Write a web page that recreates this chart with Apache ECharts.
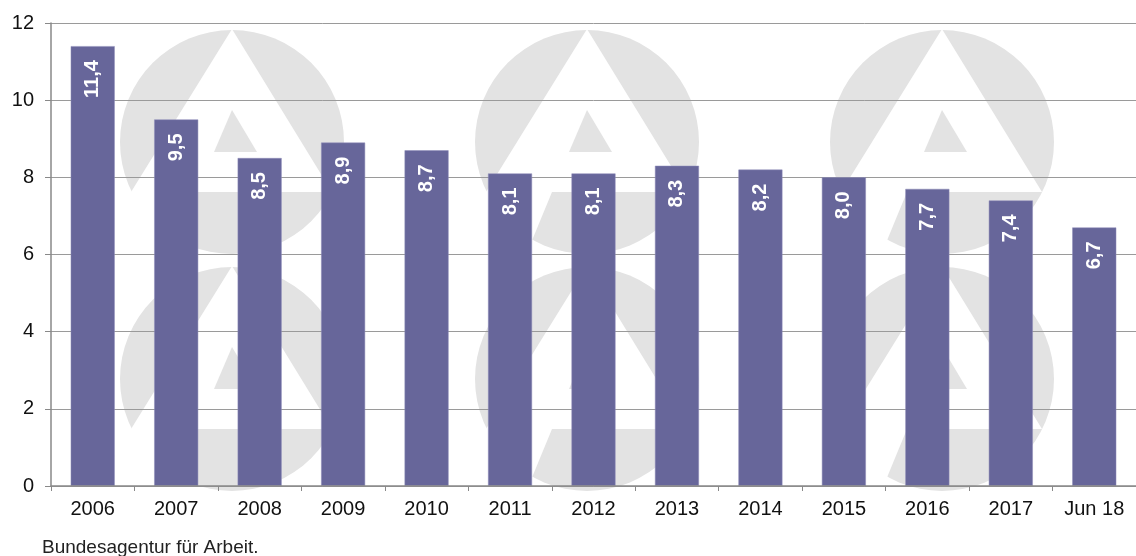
<!DOCTYPE html>
<html>
<head>
<meta charset="utf-8">
<script src="https://cdn.jsdelivr.net/npm/echarts@6/dist/echarts.min.js"></script>
<style>
  html, body { margin: 0; padding: 0; background: #fff; }
  #div-chart { width: 1136px; height: 556px; }
</style>
</head>
<body>
<div id="div-chart"></div>
<script>
var categories = ['2006', '2007', '2008', '2009', '2010', '2011', '2012', '2013', '2014', '2015', '2016', '2017', 'Jun 18'];
var values = [11.4, 9.5, 8.5, 8.9, 8.7, 8.1, 8.1, 8.3, 8.2, 8.0, 7.7, 7.4, 6.7];
var source = 'Bundesagentur für Arbeit.';

var myChart = echarts.init(document.getElementById('div-chart'));

// Wasserzeichen (Logo), nur Dekoration
var logoCenters = [[232, 142], [587, 142], [942, 142], [232, 379], [587, 379], [942, 379]];
function logo(c) {
    var cx = c[0], cy = c[1];
    function p(pts) {
        return pts.map(function (q) { return [cx + q[0], cy + q[1]]; });
    }
    return [
        { type: 'circle', z: -10, silent: true, shape: { cx: cx, cy: cy, r: 112 }, style: { fill: '#e3e3e3' } },
        { type: 'polygon', z: -9, silent: true,
          shape: { points: p([[0, -113], [100, 50], [-35, 50], [-61, 113], [-140, 113]]) },
          style: { fill: '#fff' } },
        { type: 'polygon', z: -8, silent: true,
          shape: { points: p([[0, -32], [25, 10], [-18, 10]]) },
          style: { fill: '#e3e3e3' } }
    ];
}
var watermark = [];
logoCenters.forEach(function (c) { watermark = watermark.concat(logo(c)); });

option = {
    animation: false,
    textStyle: { fontFamily: 'Liberation Sans, Arial, sans-serif' },
    grid: { left: 51, top: 23, width: 1092, height: 463, containLabel: false },
    graphic: {
        elements: watermark.concat([
            { type: 'text', left: 42, top: 538, z: 10,
              style: { text: source, fontSize: 19, fill: '#222', fontFamily: 'Liberation Sans, Arial, sans-serif' } }
        ])
    },
    xAxis: {
        type: 'category',
        data: categories,
        axisLine: { lineStyle: { color: '#898989', width: 1.5 } },
        axisTick: { show: true, length: 5, lineStyle: { color: '#898989' } },
        axisLabel: { color: '#111', fontSize: 20, margin: 13 },
        z: 5
    },
    yAxis: {
        type: 'value',
        min: 0,
        max: 12,
        interval: 2,
        axisLine: { show: true, lineStyle: { color: '#898989', width: 1.5 } },
        axisTick: { show: true, length: 6, lineStyle: { color: '#898989' } },
        axisLabel: { color: '#111', fontSize: 20, margin: 17 },
        splitLine: { lineStyle: { color: '#9a9a9a', width: 1 } },
        z: 1
    },
    series: [
        {
            type: 'bar',
            data: values,
            barWidth: 44,
            itemStyle: { color: '#67669a', borderColor: '#8e8db8', borderWidth: 0.5 },
            z: 3,
            label: {
                show: true,
                position: 'insideTop',
                rotate: 90,
                align: 'right',
                verticalAlign: 'middle',
                distance: 14,
                color: '#fff',
                fontWeight: 'bold',
                fontSize: 20,
                formatter: function (p) { return p.value.toFixed(1).replace('.', ','); }
            }
        }
    ]
};

myChart.setOption(option);
</script>
</body>
</html>
